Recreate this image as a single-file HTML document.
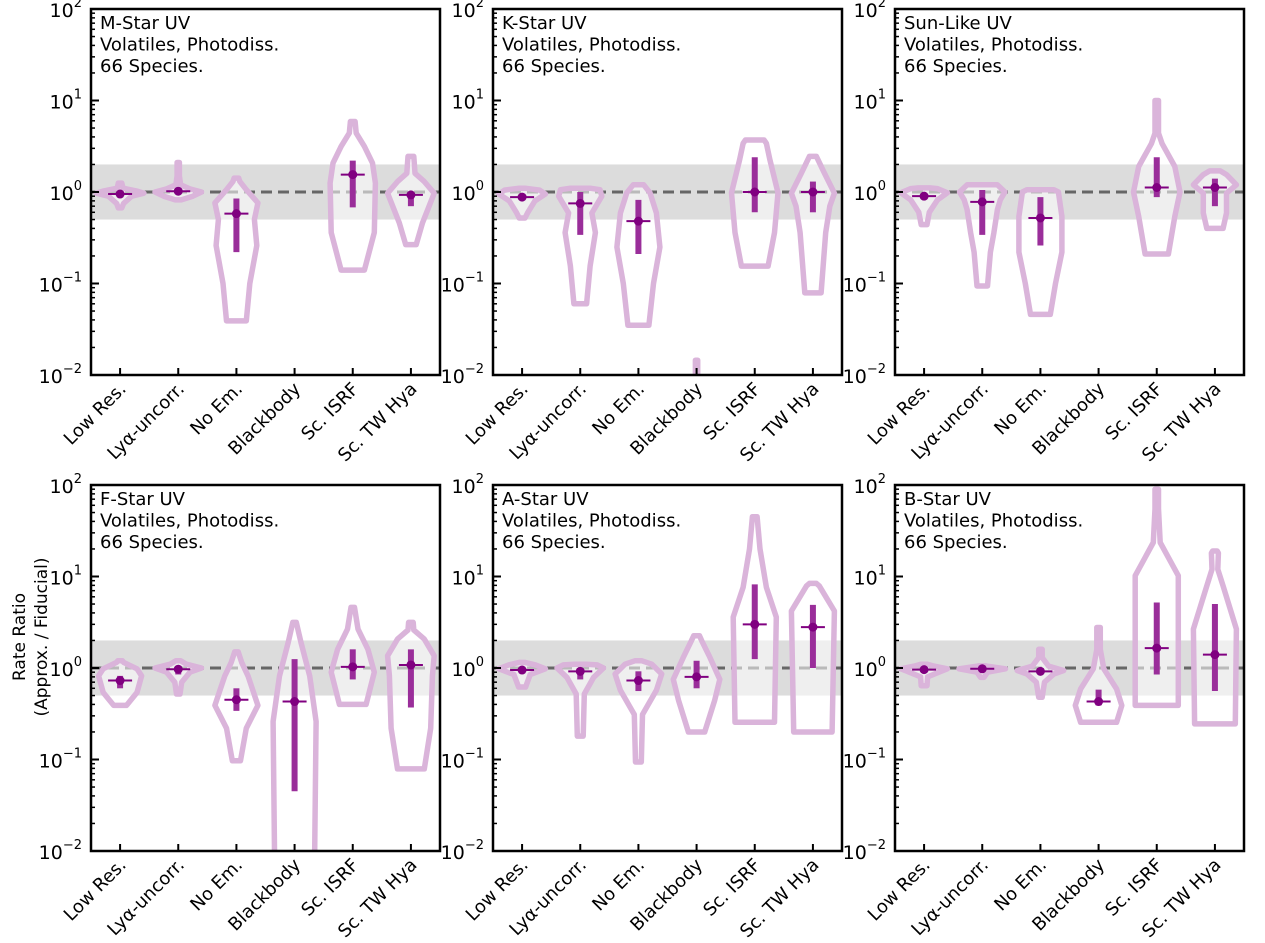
<!DOCTYPE html>
<html><head><meta charset="utf-8"><style>
html,body{margin:0;padding:0;background:#fff;}
svg{display:block;font-family:"DejaVu Sans","Liberation Sans",sans-serif;}
</style></head><body>
<svg id="chart" width="1265" height="943" viewBox="0 0 1265 943" xmlns="http://www.w3.org/2000/svg">
<g>
<text x="25" y="637" transform="rotate(-90 25 637)" text-anchor="middle" font-size="17" fill="#000">Rate Ratio</text>
<text x="47" y="637" transform="rotate(-90 47 637)" text-anchor="middle" font-size="17" fill="#000">(Approx. / Fiducial)</text>
</g>
</svg>
<script>
const categories = ["Low Res.", "Ly\u03b1-uncorr.", "No Em.", "Blackbody", "Sc. ISRF", "Sc. TW Hya"];
const panelTitles = ["M-Star UV", "K-Star UV", "Sun-Like UV", "F-Star UV", "A-Star UV", "B-Star UV"];
const yTickValues = [0.01, 0.1, 1, 10, 100];
const yTickExps = ["\u22122", "\u22121", "0", "1", "2"];
const bandLow = 0.5, bandHigh = 2, refLine = 1;

const medians = [
 [0.95, 1.02, 0.58, null, 1.55, 0.93],
 [0.88, 0.75, 0.48, null, 1.0, 1.0],
 [0.9, 0.78, 0.52, null, 1.12, 1.12],
 [0.73, 0.97, 0.45, 0.43, 1.03, 1.08],
 [0.95, 0.92, 0.73, 0.8, 3.0, 2.8],
 [0.96, 0.98, 0.92, 0.43, 1.65, 1.4]
];
const q1s = [
 [0.9, 0.98, 0.22, null, 0.68, 0.7],
 [0.82, 0.34, 0.21, null, 0.6, 0.6],
 [0.85, 0.34, 0.26, null, 0.88, 0.7],
 [0.6, 0.85, 0.34, 0.045, 0.75, 0.37],
 [0.9, 0.75, 0.56, 0.6, 1.25, 1.0],
 [0.93, 0.96, 0.86, 0.39, 0.85, 0.56]
];
const q3s = [
 [1.0, 1.05, 0.85, null, 2.2, 0.97],
 [0.95, 1.0, 0.82, null, 2.4, 1.3],
 [0.95, 1.05, 0.88, null, 2.4, 1.4],
 [0.82, 1.03, 0.6, 1.25, 1.6, 1.6],
 [1.0, 1.0, 0.92, 1.2, 8.2, 4.9],
 [1.0, 1.0, 0.98, 0.58, 5.2, 5.0]
];
// violin density profiles: [value, half-width as fraction of category spacing]
const profiles = [
 [
  [[0.67,0.03],[0.75,0.06],[0.9,0.2],[0.97,0.41],[1.02,0.3],[1.1,0.05],[1.25,0.03]],
  [[0.82,0.05],[0.9,0.25],[1.0,0.4],[1.08,0.2],[1.2,0.04],[1.5,0.02],[2.1,0.02]],
  [[0.039,0.17],[0.1,0.23],[0.26,0.35],[0.5,0.31],[0.76,0.37],[1.06,0.17],[1.3,0.06],[1.42,0.04]],
  null,
  [[0.14,0.2],[0.36,0.37],[1.25,0.39],[2.07,0.34],[3.15,0.2],[4.4,0.06],[5.9,0.04]],
  [[0.266,0.09],[0.46,0.2],[0.97,0.4],[1.3,0.23],[1.6,0.07],[2.45,0.05]]
 ],
 [
  [[0.52,0.05],[0.6,0.1],[0.8,0.22],[0.95,0.4],[1.05,0.3],[1.1,0.05]],
  [[0.06,0.11],[0.155,0.17],[0.36,0.26],[0.59,0.2],[0.9,0.37],[1.06,0.34],[1.1,0.17]],
  [[0.035,0.18],[0.1,0.26],[0.25,0.37],[0.59,0.31],[0.98,0.2],[1.2,0.09]],
  [[0.008,0.02],[0.0145,0.02]],
  [[0.155,0.23],[0.36,0.34],[0.98,0.4],[2.25,0.26],[3.4,0.2],[3.7,0.16]],
  [[0.079,0.14],[0.36,0.22],[0.7,0.29],[0.97,0.37],[1.6,0.2],[2.45,0.06]]
 ],
 [
  [[0.44,0.05],[0.6,0.09],[0.82,0.23],[0.98,0.4],[1.09,0.23],[1.11,0.1]],
  [[0.094,0.09],[0.22,0.14],[0.36,0.2],[0.64,0.26],[0.82,0.31],[1.0,0.39],[1.2,0.26]],
  [[0.046,0.17],[0.1,0.26],[0.22,0.37],[0.54,0.37],[1.0,0.31],[1.06,0.23]],
  null,
  [[0.21,0.2],[0.54,0.31],[1.0,0.4],[1.9,0.31],[3.4,0.09],[4.4,0.03],[10,0.03]],
  [[0.4,0.14],[0.59,0.2],[0.97,0.2],[1.2,0.37],[1.55,0.2],[1.7,0.09]]
 ],
 [
  [[0.39,0.11],[0.54,0.29],[0.82,0.37],[0.98,0.29],[1.15,0.06],[1.2,0.04]],
  [[0.52,0.03],[0.7,0.06],[0.9,0.2],[1.0,0.4],[1.1,0.14],[1.2,0.04]],
  [[0.097,0.07],[0.22,0.17],[0.39,0.37],[0.82,0.2],[1.15,0.09],[1.5,0.03]],
  [[0.005,0.34],[0.26,0.37],[0.82,0.26],[1.9,0.11],[3.15,0.03]],
  [[0.4,0.23],[0.9,0.37],[1.6,0.26],[2.66,0.09],[4.6,0.03]],
  [[0.079,0.23],[0.22,0.34],[0.82,0.37],[1.36,0.4],[2.07,0.23],[2.6,0.05],[3.15,0.04]]
 ],
 [
  [[0.62,0.06],[0.85,0.14],[0.98,0.4],[1.08,0.23],[1.15,0.05]],
  [[0.18,0.05],[0.52,0.07],[0.79,0.23],[1.0,0.4],[1.08,0.29],[1.1,0.1]],
  [[0.094,0.05],[0.31,0.07],[0.57,0.31],[0.86,0.4],[1.1,0.23],[1.2,0.06]],
  [[0.2,0.14],[0.44,0.31],[0.75,0.4],[1.3,0.23],[1.98,0.09],[2.25,0.05]],
  [[0.255,0.34],[3.6,0.37],[7.6,0.2],[20,0.09],[45,0.04]],
  [[0.2,0.33],[4.2,0.37],[7.9,0.11],[8.4,0.06]]
 ],
 [
  [[0.64,0.05],[0.8,0.06],[0.92,0.29],[0.98,0.4],[1.05,0.17],[1.1,0.05]],
  [[0.79,0.03],[0.9,0.09],[0.98,0.4],[1.04,0.11],[1.06,0.05]],
  [[0.48,0.03],[0.7,0.07],[0.86,0.23],[0.94,0.4],[1.05,0.14],[1.3,0.03],[1.6,0.03]],
  [[0.255,0.31],[0.39,0.4],[0.59,0.31],[0.98,0.09],[1.6,0.03],[2.77,0.03]],
  [[0.39,0.37],[10.2,0.37],[23.5,0.06],[55,0.03],[90,0.03]],
  [[0.245,0.35],[2.66,0.37],[7.9,0.14],[12,0.05],[18,0.06],[19,0.04]]
 ]
];

const NS = "http://www.w3.org/2000/svg";
const svg = document.getElementById("chart");
const panelX = [91, 493, 895], panelY = [9, 485];
const PW = 349, PH = 366;
function mk(tag, attrs, parent) {
  const e = document.createElementNS(NS, tag);
  for (const k in attrs) e.setAttribute(k, attrs[k]);
  parent.appendChild(e);
  return e;
}
for (let p = 0; p < 6; p++) {
  const x0 = panelX[p % 3], y0 = panelY[Math.floor(p / 3)];
  const cw = PW / categories.length;
  const yS = v => y0 + (2 - Math.log10(v)) * PH / 4;
  const xS = i => x0 + (i + 0.5) * cw;
  const g = mk("g", {}, svg);
  
  
  const cp = mk("clipPath", { id: "clip" + p }, g);
  mk("rect", { x: x0, y: y0, width: PW, height: PH }, cp);
  const band = mk("rect", { x: x0, y: yS(bandHigh), width: PW, height: yS(bandLow) - yS(bandHigh), fill: "#dcdcdc" }, g);
  
  
  const dl = mk("line", { x1: x0, x2: x0 + PW, y1: yS(refLine), y2: yS(refLine), stroke: "#666", "stroke-width": 3, "stroke-dasharray": "11,6" }, g);
  
  
  const vg = mk("g", { "clip-path": "url(#clip" + p + ")" }, g);
  for (let i = 0; i < categories.length; i++) {
    const prof = profiles[p][i];
    if (!prof) continue;
    const cx = xS(i);
    let d = "";
    prof.forEach((pt, k) => { d += (k ? "L" : "M") + (cx - pt[1] * cw).toFixed(1) + "," + yS(pt[0]).toFixed(1); });
    for (let k = prof.length - 1; k >= 0; k--) d += "L" + (cx + prof[k][1] * cw).toFixed(1) + "," + yS(prof[k][0]).toFixed(1);
    d += "Z";
    const v = mk("path", { d: d, fill: "rgba(255,255,255,0.55)", stroke: "#dab4da", "stroke-width": 5.5, "stroke-linejoin": "round" }, vg);
    
    
    if (medians[p][i] == null) continue;
    const bar = mk("line", { x1: cx, x2: cx, y1: yS(q1s[p][i]), y2: yS(q3s[p][i]), stroke: "#9a2e9a", "stroke-width": 6 }, vg);
    
    
    const ml = mk("line", { x1: cx - 12, x2: cx + 12, y1: yS(medians[p][i]), y2: yS(medians[p][i]), stroke: "#800080", "stroke-width": 2 }, vg);
    
    
    const dot = mk("circle", { cx: cx, cy: yS(medians[p][i]), r: 4.5, fill: "#800080" }, vg);
    
    
  }
  for (let e = -2; e < 2; e++) for (let m = 2; m <= 9; m++) {
    const yy = yS(m * Math.pow(10, e));
    mk("line", { x1: x0, x2: x0 + 4, y1: yy, y2: yy, stroke: "#000", "stroke-width": 1.5 }, g);
  }
  yTickValues.forEach((v, k) => {
    const yy = yS(v);
    mk("line", { x1: x0, x2: x0 + 8, y1: yy, y2: yy, stroke: "#000", "stroke-width": 2 }, g);
    const t = mk("text", { x: x0 - 9, y: yy + 8, "text-anchor": "end", "font-size": 19, fill: "#000" }, g);
    
    
    t.appendChild(document.createTextNode("10"));
    const s = mk("tspan", { dy: -10, "font-size": 13 }, t);
    s.textContent = yTickExps[k];
  });
  categories.forEach((c, i) => {
    const cx = xS(i), yb = y0 + PH;
    mk("line", { x1: cx, x2: cx, y1: yb, y2: yb - 7, stroke: "#000", "stroke-width": 2 }, g);
    const tx = cx + 7, ty = yb + 15;
    const t = mk("text", { x: tx, y: ty, "text-anchor": "end", "font-size": 18, fill: "#000", transform: "rotate(-45 " + tx + " " + ty + ")" }, g);
    
    
    t.textContent = c;
  });
  const fr = mk("rect", { x: x0, y: y0, width: PW, height: PH, fill: "none", stroke: "#000", "stroke-width": 2.5 }, g);
  
  
  const lines = [panelTitles[p], "Volatiles, Photodiss.", "66 Species."];
  lines.forEach((l, k) => {
    const t = mk("text", { x: x0 + 9, y: y0 + 20 + k * 21.5, "font-size": 18, fill: "#000" }, g);
    
    
    t.textContent = l;
  });
}
</script>
</body></html>
